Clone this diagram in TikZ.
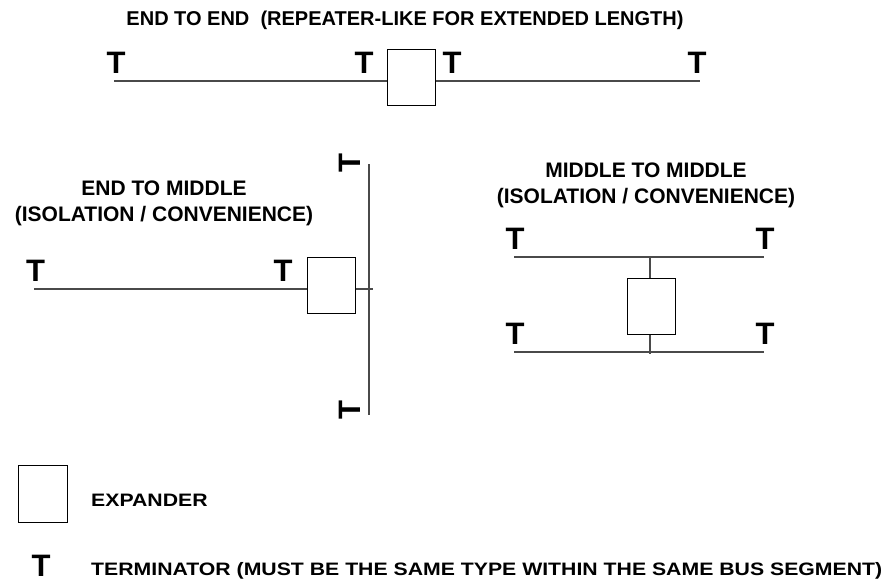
\documentclass[tikz,border=0pt]{standalone}
\usepackage{fontspec}
\setmainfont{Liberation Sans}
\newfontfamily\legfont[FakeStretch=1.18]{Liberation Sans}
\usetikzlibrary{positioning, calc}
\definecolor{busgray}{HTML}{4A4A4A}

\begin{document}
\begin{tikzpicture}[
  x=1pt, y=-1pt,
  bus/.style={draw=busgray, line width=1.6pt},
  expbox/.style={draw=black, line width=1pt, fill=white,
    minimum width=48pt, minimum height=56pt, inner sep=0pt},
  term/.style={font=\fontsize{31}{31}\selectfont\bfseries, inner sep=0pt},
  ttl/.style={font=\fontsize{21}{26}\selectfont\bfseries, align=center},
  leg/.style={font=\legfont\fontsize{18}{20}\selectfont\bfseries, inner sep=0pt},
]
\useasboundingbox (0,0) rectangle (889,581);

% =============================================
% End to end
% =============================================
\node[ttl, font=\fontsize{20}{24}\selectfont\bfseries, anchor=base]
  (ttl-ee) at (405,25) {END TO END\ \ (REPEATER-LIKE FOR EXTENDED LENGTH)};
\node[expbox] (rep) at (411,77) {};
\coordinate (ee-l) at (114,81);
\coordinate (ee-r) at (700,81);
\draw[bus] (ee-l) -- (ee-l -| rep.west);
\draw[bus] (rep.east |- ee-r) -- (ee-r);
\node[term, anchor=base] (t-ee1) at (116,73) {T};
\node[term, anchor=base] (t-ee2) at (364,73) {T};
\node[term, anchor=base] (t-ee3) at (452,73) {T};
\node[term, anchor=base] (t-ee4) at (697,73) {T};

% =============================================
% End to middle
% =============================================
\node[ttl] (ttl-em) at (164,203) {END TO MIDDLE\\(ISOLATION / CONVENIENCE)};
\node[expbox] (emb) at (331,285) {};
\coordinate (em-l) at (34,289);
\coordinate (vb-top) at (369,164);
\coordinate (vb-bot) at (369,415);
\coordinate (em-r) at (373,289);
\draw[bus] (vb-top) -- (vb-bot);
\draw[bus] (em-l) -- (em-l -| emb.west);
\draw[bus] (emb.east |- em-r) -- (em-r);
\node[term, anchor=base] (t-em1) at (35.5,281) {T};
\node[term, anchor=base] (t-em2) at (283,281) {T};
\node[term, rotate=90] (t-vb1) at (350,163.5) {T};
\node[term, rotate=90] (t-vb2) at (350,410) {T};

% =============================================
% Middle to middle
% =============================================
\node[ttl] (ttl-mm) at (646,185) {MIDDLE TO MIDDLE\\(ISOLATION / CONVENIENCE)};
\node[expbox] (mmb) at (651,306) {};
\coordinate (mm-tl) at (514,257);
\coordinate (mm-tr) at (764,257);
\coordinate (mm-bl) at (514,352);
\coordinate (mm-br) at (764,352);
\draw[bus] (mm-tl) -- (mm-tr);
\draw[bus] (mm-bl) -- (mm-br);
\draw[bus] (mmb.north -| 650,0) -- (650,257);
\draw[bus] (mmb.south -| 650,0) -- (650,354);
\node[term, anchor=base] (t-mm1) at (515,249) {T};
\node[term, anchor=base] (t-mm2) at (765,249) {T};
\node[term, anchor=base] (t-mm3) at (515,344) {T};
\node[term, anchor=base] (t-mm4) at (765,344) {T};

% =============================================
% Legend
% =============================================
\node[expbox, minimum width=49pt, minimum height=57pt] (leg-box) at (42.5,493.5) {};
\node[leg, anchor=base west] (leg-exp) at (91,506) {EXPANDER};
\node[term, anchor=base] (leg-t) at (41,576) {T};
\node[leg, anchor=base west] (leg-term) at (91,575)
  {TERMINATOR (MUST BE THE SAME TYPE WITHIN THE SAME BUS SEGMENT)};

\end{tikzpicture}
\end{document}
